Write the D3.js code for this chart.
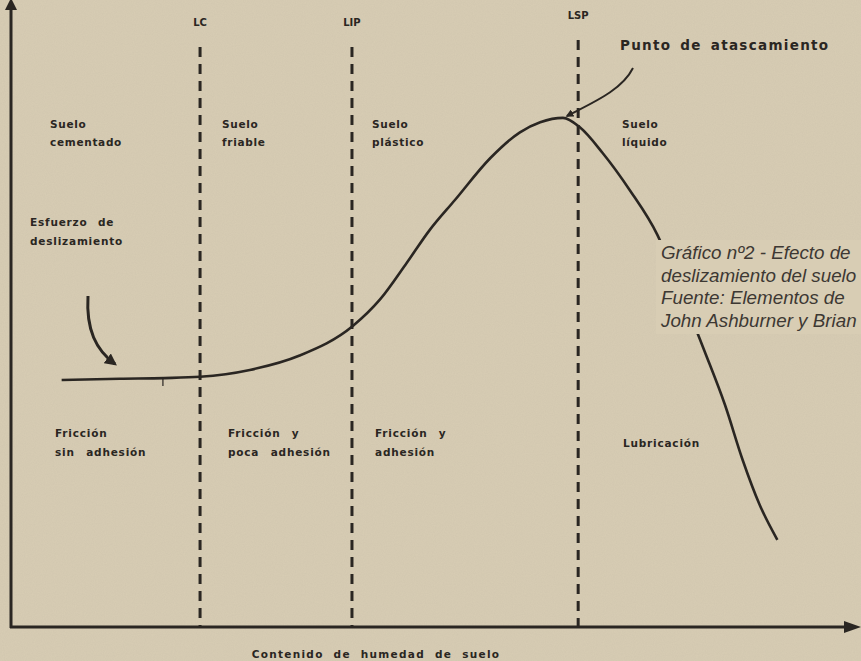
<!DOCTYPE html>
<html><head><meta charset="utf-8">
<script src="https://cdn.jsdelivr.net/npm/d3@7"></script>
<style>
html,body{margin:0;padding:0;background:#d7ccb3;}
svg{display:block;}
</style></head><body>
<svg id="c" width="861" height="661"></svg>
<script>
// ---- data ----
const moisture = [6.0,12.9,18.2,22.4,28.3,34.2,40.5,43.7,46.9,49.6,52.6,56.8,60.3,62.7,65.4,67.4,70.1,73.3,76.6,79.3,82.2,84.6,86.7,88.7,90.8];
const strength = [39.4,39.6,39.7,39.9,41.0,43.3,48.0,52.2,58.1,63.3,68.1,74.8,78.9,80.5,81.2,79.7,75.6,69.7,62.5,53.7,43.9,35.4,26.6,19.5,13.9];
const limitNames = ["LC","LIP","LSP"];
const limitValues = [22.4,40.4,67.2];
const stateLabels = [["Suelo","cementado"],["Suelo","friable"],["Suelo","plástico"],["Suelo","líquido"]];
const frictionLabels = [["Fricción","sin adhesión"],["Fricción y","poca adhesión"],["Fricción y","adhesión"],["Lubricación"]];
const xTitle = "Contenido de humedad de suelo";
const peakLabel = "Punto de atascamiento";
const slipLabel = ["Esfuerzo de","deslizamiento"];
const caption = ["Gráfico nº2 - Efecto de","deslizamiento del suelo","Fuente: Elementos de","John Ashburner y Brian"];

// ---- drawing ----
const svg = d3.select("#c");
const ink = "#2a2622";
const x = d3.scaleLinear().domain([0,100]).range([11,855]);
const y = d3.scaleLinear().domain([0,100]).range([627,0]);

const defs = svg.append("defs");
const f = defs.append("filter").attr("id","noise");
f.append("feTurbulence").attr("type","fractalNoise").attr("baseFrequency",0.9).attr("numOctaves",2).attr("result","n");
f.append("feColorMatrix").attr("type","matrix").attr("values","0 0 0 0 0.45  0 0 0 0 0.40  0 0 0 0 0.32  0 0 0 0.18 0");
svg.append("rect").attr("width",861).attr("height",661).attr("fill","#d8cdb4");
svg.append("rect").attr("width",861).attr("height",661).attr("filter","url(#noise)");

defs.append("marker").attr("id","ah").attr("viewBox","0 0 10 10").attr("refX",8).attr("refY",5)
  .attr("markerWidth",4).attr("markerHeight",4).attr("orient","auto")
  .append("path").attr("d","M0,0L10,5L0,10Z").attr("fill",ink);

const font = "DejaVu Sans, Verdana, sans-serif";

// dashed limit lines
const tops = [47,47,40];
limitValues.forEach((v,i)=>{
  svg.append("line").attr("x1",x(v)).attr("x2",x(v)).attr("y1",tops[i]).attr("y2",y(0))
    .attr("stroke",ink).attr("stroke-width",3).attr("stroke-dasharray","10,7");
  svg.append("text").attr("x",x(v)).attr("y",tops[i]-21).attr("text-anchor","middle")
    .attr("font-family",font).attr("font-weight","bold")
    .attr("font-size",10).attr("fill",ink).text(limitNames[i]);
});

// axes
svg.append("line").attr("x1",x(0)).attr("x2",x(0)).attr("y1",y(0)+1).attr("y2",6)
  .attr("stroke",ink).attr("stroke-width",3);
svg.append("path").attr("d",`M${x(0)-6},10L${x(0)},-2L${x(0)+6},10Z`).attr("fill",ink);
svg.append("line").attr("x1",x(0)-1).attr("x2",848).attr("y1",y(0)).attr("y2",y(0))
  .attr("stroke",ink).attr("stroke-width",3);
svg.append("path").attr("d",`M844,${y(0)-6}L861,${y(0)}L844,${y(0)+6}Z`).attr("fill",ink);

// curve
const pts = moisture.map((m,i)=>[m,strength[i]]);
svg.append("path").datum(pts)
  .attr("d",d3.line().x(d=>x(d[0])).y(d=>y(d[1])).curve(d3.curveMonotoneX))
  .attr("fill","none").attr("stroke",ink).attr("stroke-width",2.6);
svg.append("line").attr("x1",x(18.0)).attr("x2",x(18.0)).attr("y1",y(39.7)-1).attr("y2",y(39.7)+8)
  .attr("stroke",ink).attr("stroke-width",1.2);

function label(lines, px, py, size, lh, ls, ws){
  const t = svg.append("text").attr("font-family",font).attr("font-weight","bold")
    .attr("font-size",size).attr("fill",ink).attr("letter-spacing",ls).attr("word-spacing",ws);
  lines.forEach((l,i)=>t.append("tspan").attr("x",px).attr("y",py+i*lh).text(l));
}
const stateX = [50,222,372,622];
stateLabels.forEach((l,i)=>label(l,stateX[i],128,10.5,18,0.7,3));
const fricX = [55,228,375,623];
frictionLabels.forEach((l,i)=>label(l,fricX[i],l.length===1?447:437,10.5,19,0.8,7));
label(slipLabel,30,226,10.5,19,0.8,6);
label([peakLabel],620,50,13.5,0,1.3,3);

// x title
svg.append("text").attr("x",376).attr("y",658).attr("text-anchor","middle")
  .attr("font-family",font).attr("font-weight","bold").attr("font-size",10.5)
  .attr("fill",ink).attr("letter-spacing",1.3).attr("word-spacing",5).text(xTitle);

// arrow: peak point
svg.append("path").attr("d","M633,68 C622,90 594,102 567,116")
  .attr("fill","none").attr("stroke",ink).attr("stroke-width",2).attr("marker-end","url(#ah)");
// arrow: slip stress
svg.append("path").attr("d","M88,296 C86,330 96,350 115,364")
  .attr("fill","none").attr("stroke",ink).attr("stroke-width",3).attr("marker-end","url(#ah)");

// caption block (covers curve)
svg.append("rect").attr("x",656).attr("y",240).attr("width",205).attr("height",94).attr("fill","#d8cdb4");
const cap = svg.append("text").attr("font-family","Liberation Sans, Arial, sans-serif").attr("font-style","italic")
  .attr("font-size",18.8).attr("fill","#3d3833");
caption.forEach((c,i)=>cap.append("tspan").attr("x",661).attr("y",259+i*22.7).text(c));
</script>
</body></html>
